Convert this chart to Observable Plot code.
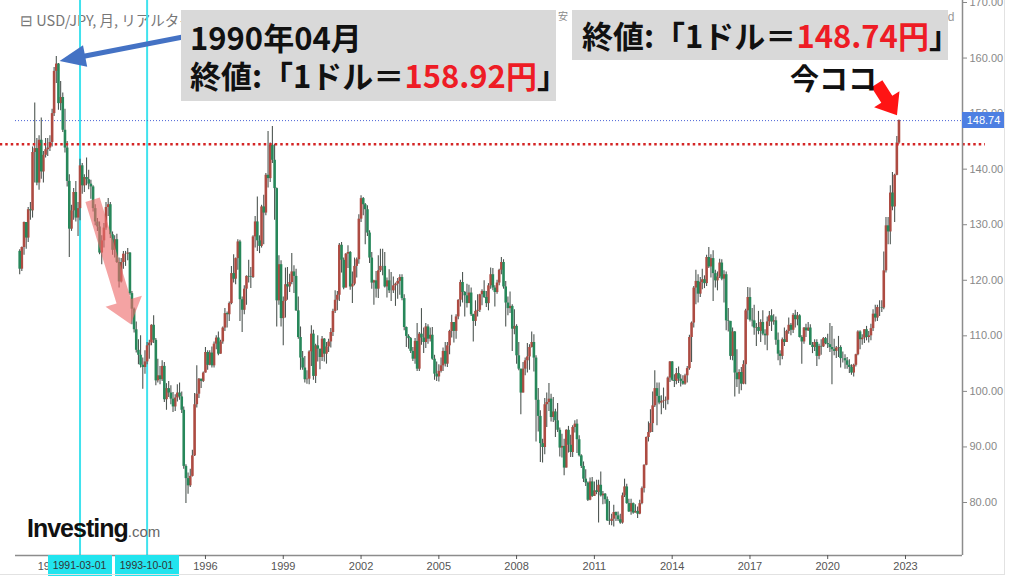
<!DOCTYPE html>
<html><head><meta charset="utf-8">
<script src="https://cdn.jsdelivr.net/npm/d3@7"></script>
<script src="https://cdn.jsdelivr.net/npm/@observablehq/plot@0.6"></script>
<style>
body{margin:0;background:#fff;}
#wrap{position:relative;width:1024px;height:576px;overflow:hidden;background:#fff;font-family:"Liberation Sans",Arial,sans-serif;}
#wrap svg{position:absolute;left:0;top:0;}
.ov{position:absolute;white-space:nowrap;}
.box{position:absolute;background:#d9d9d9;font-family:"Noto Sans CJK JP",sans-serif;font-weight:bold;color:#111;white-space:nowrap;box-sizing:border-box;}
.red{color:#ee1c25;}
.cy{position:absolute;background:#22e4ee;color:#333;font-size:10.5px;text-align:center;height:21px;line-height:21px;}
</style></head><body><div id="wrap"></div>
<script>
// ---------- data: USD/JPY monthly candles from 1988-11 to 2022-10 ----------
const startYear = 1988, startMonth = 10; // November 1988 (0-based month)
const firstOpen = 125.2;
const closes = [
 122.0,125.9,
 130.4,127.6,132.7,132.5,143.0,143.7,137.5,145.2,139.5,142.5,143.5,143.8,
 144.8,150.0,157.6,158.92,151.8,152.9,147.0,143.8,137.8,129.2,132.5,135.8,
 131.2,132.9,140.6,137.0,138.5,138.1,137.3,136.8,132.9,130.5,129.6,124.9,
 127.1,129.4,133.1,133.6,128.2,125.4,127.3,123.2,119.7,123.2,124.7,124.7,
 124.9,117.6,114.8,111.1,107.4,106.5,104.7,104.3,105.3,108.2,108.7,111.9,
 109.2,101.9,102.8,102.1,104.5,98.5,100.5,99.7,98.6,97.2,98.8,99.7,
 99.0,96.6,86.5,84.3,83.0,84.7,88.4,97.6,99.5,102.2,101.8,103.3,
 107.0,104.7,106.9,104.6,108.5,109.6,106.7,108.9,111.4,114.0,113.8,115.8,
 121.2,120.2,123.9,126.9,116.5,114.6,118.4,120.7,120.6,120.5,127.8,130.5,
 127.1,126.1,133.2,132.1,138.9,138.3,144.3,141.6,136.5,116.3,122.8,113.1,
 116.2,119.2,118.8,119.6,121.5,120.7,114.5,109.7,106.0,104.2,102.1,102.2,
 107.1,110.3,102.7,108.2,107.6,106.1,109.4,106.7,108.0,108.9,110.6,114.4,
 116.4,117.3,126.3,123.6,118.6,124.7,125.0,118.8,119.3,122.5,123.7,131.0,
 134.7,133.6,132.7,128.5,124.0,119.5,119.9,118.4,121.7,122.5,122.5,118.8,
 119.9,118.1,118.1,119.0,119.3,119.8,120.5,116.7,111.5,109.9,109.5,107.2,
 105.8,109.0,104.0,110.3,109.6,108.8,111.6,109.4,110.1,105.8,103.1,102.6,
 103.6,104.6,107.2,104.9,108.2,110.8,112.4,110.8,113.4,116.4,119.6,117.8,
 117.2,115.8,117.7,113.8,112.6,114.4,114.6,117.4,118.0,116.9,115.8,119.0,
 121.0,118.6,117.8,119.5,121.8,123.2,118.8,115.9,114.9,115.3,111.2,111.7,
 106.4,104.0,99.7,104.0,105.5,106.2,107.9,108.8,106.0,98.4,95.5,90.6,
 89.9,97.6,98.0,98.6,95.3,96.3,94.7,93.0,89.8,90.1,86.2,93.0,
 90.3,89.0,93.5,94.1,91.3,88.4,86.5,84.2,83.5,80.4,83.7,81.1,
 82.1,81.8,83.1,81.2,81.5,80.5,76.7,76.6,77.0,78.2,77.6,76.9,
 76.3,81.2,82.8,79.8,78.3,79.8,78.1,78.4,77.9,79.8,82.5,86.7,
 91.7,92.6,94.2,97.4,100.5,99.1,97.9,98.2,98.3,98.4,102.4,105.3,
 102.0,101.8,103.2,102.2,101.8,101.3,102.8,104.1,109.7,112.3,118.6,119.8,
 117.5,119.6,120.1,119.4,124.1,122.4,123.9,121.2,119.9,120.6,123.1,120.2,
 121.0,112.7,112.6,106.3,110.7,103.3,102.1,103.4,101.3,104.8,114.5,116.9,
 112.8,112.7,111.4,111.5,110.8,112.4,110.3,110.0,112.5,113.6,112.5,112.7,
 109.2,106.7,106.3,109.3,108.8,110.8,111.9,111.0,113.7,112.9,113.6,109.7,
 108.9,111.4,110.9,111.4,108.3,107.9,108.8,106.3,108.1,108.0,109.5,108.6,
 108.4,107.9,107.5,107.2,107.8,107.9,105.9,105.9,105.5,104.7,104.3,103.3,
 104.7,106.6,110.7,109.3,109.6,111.1,109.7,110.0,111.3,113.9,113.2,115.1,
 115.1,115.0,121.7,129.8,128.7,135.7,133.2,138.9,144.7,148.74
];
const highs = [
 125.5,126.0,
 130.5,130.3,133.1,134.0,144.0,151.9,145.5,146.0,149.2,143.2,145.5,145.5,
 146.0,150.8,158.3,160.3,159.0,155.8,153.7,150.8,145.0,139.0,133.5,136.5,
 137.8,134.0,141.8,141.0,139.0,142.0,139.8,138.0,137.0,133.6,131.1,130.5,
 128.0,130.2,134.0,134.7,134.0,128.7,128.0,128.3,124.0,123.9,125.2,125.2,
 125.7,125.0,118.0,115.0,112.5,109.3,110.0,106.0,107.3,108.8,109.2,112.0,
 113.6,109.5,105.8,104.5,105.5,105.2,101.4,101.8,101.0,99.8,99.4,101.2,
 101.5,99.9,97.2,86.8,85.3,86.0,89.4,99.6,104.6,102.3,102.2,103.5,
 107.9,107.3,107.3,108.0,108.9,110.0,110.7,109.2,111.6,114.9,114.3,116.1,
 122.5,124.6,124.0,127.3,127.2,117.0,119.0,120.8,123.6,122.3,128.0,131.5,
 135.0,128.0,133.5,135.3,139.2,146.8,144.7,147.7,144.5,136.6,124.4,123.5,
 117.0,122.2,122.3,121.1,124.8,122.6,122.0,117.0,111.6,107.2,106.3,103.7,
 107.3,111.8,111.0,108.5,110.0,107.3,109.9,109.5,108.8,109.4,111.3,114.8,
 118.1,118.0,126.6,126.8,124.0,124.8,126.2,125.2,121.5,124.0,124.0,131.8,
 135.2,134.9,133.8,133.4,128.9,125.0,120.0,121.6,124.4,125.6,125.6,125.0,
 120.4,121.9,121.4,120.6,119.5,120.3,121.0,121.0,117.4,111.6,110.2,109.7,
 107.9,109.5,112.2,110.6,114.9,111.4,112.2,112.0,111.4,111.5,106.5,105.3,
 104.8,106.0,107.8,108.8,108.8,111.0,113.7,112.3,113.8,116.5,120.0,121.4,
 118.0,119.3,119.1,118.6,113.9,116.3,117.4,117.5,118.3,119.9,118.0,119.4,
 122.2,122.1,119.0,120.0,122.0,124.1,123.7,119.8,117.0,117.9,115.6,114.7,
 112.0,108.8,104.0,105.2,106.0,108.6,108.4,110.7,110.2,106.4,100.5,96.5,
 91.4,98.7,99.7,101.4,99.5,98.9,96.8,97.8,93.4,92.3,91.4,93.1,
 93.7,92.1,93.8,94.7,94.9,92.0,88.6,87.3,85.9,83.7,84.4,84.5,
 83.7,84.0,84.0,85.5,82.0,81.6,81.0,80.2,77.9,79.5,78.3,78.3,
 77.9,81.7,84.2,83.3,80.6,80.6,79.9,79.6,79.2,80.4,82.8,86.8,
 91.8,94.5,96.7,99.9,103.7,101.5,101.5,99.2,100.6,99.0,102.6,105.4,
 105.4,103.0,104.1,104.4,103.0,102.8,103.1,104.5,110.1,112.5,118.9,121.8,
 121.0,120.5,122.0,120.8,124.5,125.9,124.6,125.3,121.8,121.5,123.8,123.7,
 121.7,121.5,114.9,112.0,111.4,110.8,107.5,103.9,104.3,105.5,114.8,118.7,
 118.6,114.9,115.5,112.2,114.4,112.9,114.5,111.1,113.4,114.4,114.7,113.8,
 113.4,110.5,107.3,109.6,111.4,111.0,113.2,112.2,114.0,114.6,114.2,113.8,
 110.0,111.5,112.1,112.4,112.0,108.8,109.3,109.3,108.5,109.3,109.7,109.7,
 110.3,112.2,111.7,109.4,108.1,109.9,108.2,107.1,106.6,106.1,105.7,104.8,
 104.9,106.7,110.9,110.9,110.2,111.1,111.7,110.8,112.1,114.7,115.5,115.5,
 116.3,116.3,125.1,131.3,131.3,137.0,139.4,139.1,145.9,148.86
];
const lows = [
 121.0,121.6,
 124.5,125.6,126.8,130.8,131.2,137.5,137.0,136.2,138.2,137.5,142.0,142.3,
 143.2,144.0,149.5,155.4,150.6,150.5,146.6,142.9,136.8,124.1,128.8,130.8,
 130.5,127.9,130.7,135.5,135.8,137.0,136.3,134.6,132.3,129.8,128.8,124.6,
 122.8,125.8,129.0,131.5,127.5,124.5,124.0,123.0,118.6,119.5,122.0,122.5,
 123.5,117.3,112.0,110.5,106.9,104.8,104.2,100.4,103.1,104.8,105.8,108.2,
 108.6,101.0,101.5,101.2,101.8,98.0,96.6,98.9,97.6,96.2,96.4,98.1,
 98.4,96.0,86.0,79.8,81.5,82.7,84.6,88.3,97.0,98.7,100.5,101.6,
 103.3,103.8,104.6,104.2,104.2,107.5,106.4,106.7,108.5,110.8,111.4,112.6,
 115.6,119.5,119.2,121.8,112.6,110.6,113.8,115.5,119.5,118.5,120.3,125.8,
 125.2,124.8,125.8,126.4,131.6,136.6,137.6,141.0,130.8,111.6,115.5,111.6,
 108.2,113.2,116.4,117.8,119.2,117.6,114.4,109.4,103.8,103.8,101.5,101.3,
 101.2,104.5,102.0,101.4,105.3,103.9,105.4,105.3,104.9,107.0,107.8,109.9,
 114.0,114.5,116.2,121.3,118.3,118.9,122.1,118.2,115.8,119.0,120.4,122.9,
 130.4,131.6,126.4,127.9,123.0,118.4,115.5,116.8,116.7,121.4,120.8,118.6,
 116.8,117.6,116.2,117.6,115.3,116.6,117.3,116.3,110.9,107.9,107.6,106.8,
 105.4,104.9,103.6,103.6,108.3,106.8,107.7,108.5,108.9,105.6,102.0,101.8,
 101.7,103.3,103.6,104.4,104.3,106.6,109.6,108.7,109.4,112.9,115.2,115.9,
 113.4,115.0,115.8,113.5,108.9,111.7,113.4,114.2,115.4,116.7,115.1,114.5,
 118.4,118.1,115.2,117.5,119.0,121.0,118.4,111.6,113.6,114.0,107.2,110.2,
 104.9,103.7,95.8,99.7,102.8,103.3,103.8,107.8,103.5,90.9,92.7,87.2,
 87.1,88.6,93.5,96.4,94.5,94.4,91.7,92.6,88.2,88.0,84.8,86.3,
 88.9,88.1,88.1,92.5,88.8,88.2,86.1,83.6,82.9,80.2,80.3,80.9,
 81.1,81.4,76.3,81.0,79.6,79.7,76.6,75.9,75.8,75.6,76.6,76.6,
 76.1,76.1,80.9,79.7,78.2,77.7,77.9,78.1,77.1,77.8,79.6,81.7,
 86.6,90.9,92.5,92.6,97.1,93.8,97.6,95.8,96.9,96.6,97.6,101.6,
 101.8,100.7,101.2,101.4,100.8,101.1,101.1,101.5,103.8,105.2,111.4,115.6,
 115.9,116.9,118.3,118.5,118.9,122.1,120.4,116.2,118.6,118.1,120.3,119.9,
 115.9,110.9,110.7,105.6,105.5,99.0,100.7,99.5,100.1,101.2,101.2,112.9,
 112.5,111.6,110.1,108.1,110.2,108.8,110.0,108.3,107.3,111.7,110.8,111.9,
 108.3,105.5,104.6,105.7,108.1,108.9,110.3,110.0,110.4,111.4,111.8,109.6,
 104.9,108.5,109.7,110.8,108.3,106.8,107.2,104.5,105.7,106.5,107.9,108.4,
 107.7,107.0,101.2,106.4,105.9,106.1,104.2,105.1,104.0,104.0,103.2,102.9,
 102.6,104.4,106.4,107.5,108.3,108.6,109.1,108.7,109.1,110.8,112.5,112.6,
 113.5,114.2,114.7,121.3,126.4,126.4,132.5,130.4,138.8,144.5
];
const yTicks = [80, 90, 100, 110, 120, 130, 140, 150, 160, 170];
const xTickYears = [1990, 1993, 1996, 1999, 2002, 2005, 2008, 2011, 2014, 2017, 2020, 2023];
const markerDates = ["1991-03-01", "1993-10-01"];
const levelValue = 144.5;        // red dotted level line
const peakMonth = "1990-04";     // annotated month
const headerText = "⊟ USD/JPY, 月, リアルタイム";

// ---------- build table ----------
const candles = closes.map((c, i) => ({
  date: new Date(Date.UTC(startYear, startMonth + i, 1)),
  open: i ? closes[i - 1] : firstOpen,
  close: c, high: highs[i], low: lows[i]
}));
const last = candles[candles.length - 1];
const peak = candles.find(d => d3.utcFormat("%Y-%m")(d.date) === peakMonth);
const upColor = "#ad4b42", downColor = "#27875a";
const xDomain = [new Date(Date.UTC(1988, 8, 3)), new Date(Date.UTC(2025, 2, 14))];
const yDomain = [70.46, 170.36];
const xTicks = xTickYears.map(y => new Date(Date.UTC(y, 0, 1)));
const markers = markerDates.map(s => new Date(s + "T00:00:00Z"));

const chart = Plot.plot({
  width: 1024, height: 576,
  marginLeft: 15, marginRight: 62, marginTop: 0, marginBottom: 21,
  style: {background: "transparent", fontFamily: "'Liberation Sans', Arial, sans-serif", overflow: "visible"},
  x: {type: "utc", domain: xDomain},
  y: {domain: yDomain},
  marks: [
    Plot.ruleX(markers, {stroke: "#40e2ee", strokeWidth: 2}),
    Plot.ruleY([last.close], {stroke: "#4a62d6", strokeWidth: 1, strokeDasharray: "1,2"}),
    Plot.ruleX(candles, {x: "date", y1: d => Math.min(d.low, d.open, d.close), y2: d => Math.max(d.high, d.open, d.close), stroke: "#4f5753", strokeWidth: 1.1}),
    Plot.ruleX(candles.filter(d => d.close >= d.open), {x: "date", y1: "open", y2: "close", stroke: upColor, strokeWidth: 2.6}),
    Plot.ruleX(candles.filter(d => d.close < d.open), {x: "date", y1: "open", y2: "close", stroke: downColor, strokeWidth: 2.6}),
    Plot.ruleY([{y: levelValue, x1: new Date(Date.UTC(1988, 1, 1)), x2: new Date(Date.UTC(2026, 1, 1))}], {y: "y", x1: "x1", x2: "x2", stroke: "#d42525", strokeWidth: 2.5, strokeDasharray: "2.5,3"}),
    Plot.ruleY([yDomain[0]], {stroke: "#8c8c8c", strokeWidth: 1.5}),
    Plot.ruleX([xDomain[1]], {stroke: "#8c8c8c", strokeWidth: 1.5}),
    Plot.axisY({anchor: "right", ticks: yTicks, tickFormat: d => d.toFixed(2), tickSize: 4, tickPadding: 3, fontSize: 11, color: "#888"}),
    Plot.axisX({ticks: xTicks, tickFormat: d3.utcFormat("%Y"), tickSize: 4, tickPadding: 3, fontSize: 11, color: "#555"})
  ]
});

const wrap = document.getElementById("wrap");
const header = document.createElement("div");
header.className = "ov";
header.style.cssText = "left:20px;top:9px;font-size:14.5px;color:#777;font-family:'Noto Sans CJK JP',sans-serif;";
header.textContent = headerText;
wrap.appendChild(header);
const tiny1 = document.createElement("div");
tiny1.className = "ov"; tiny1.style.cssText = "left:558px;top:8px;font-size:10px;color:#888;font-family:'Noto Sans CJK JP',sans-serif;";
tiny1.textContent = "安"; wrap.appendChild(tiny1);
const tiny2 = document.createElement("div");
tiny2.className = "ov"; tiny2.style.cssText = "left:941px;top:10px;font-size:12px;color:#999;";
tiny2.textContent = "ed"; wrap.appendChild(tiny2);

wrap.appendChild(chart);

const xs = chart.scale("x"), ys = chart.scale("y");
const svg = d3.select(chart);

// annotation arrows, anchored in data coordinates
const arrows = [
  {from: ["1991-09-01", 134.4], to: ["1993-02-20", 112.0], fill: "#ee6b6b", opacity: 0.62, shaft: 15, headW: 38, headL: 24},
  {from: ["1995-02-24", 163.7], to: ["1990-05-24", 159.4], fill: "#4472c4", opacity: 1, shaft: 5, headW: 22, headL: 26},
  {from: ["2021-12-01", 155.3], to: ["2022-09-10", 149.6], fill: "#ff1414", opacity: 1, shaft: 13, headW: 30, headL: 19}
];
function blockArrow(x1, y1, x2, y2, shaft, headW, headL) {
  const dx = x2 - x1, dy = y2 - y1, L = Math.hypot(dx, dy), ux = dx / L, uy = dy / L, px = -uy, py = ux;
  const bx = x2 - ux * headL, by = y2 - uy * headL;
  const pts = [[x1 + px * shaft / 2, y1 + py * shaft / 2], [bx + px * shaft / 2, by + py * shaft / 2], [bx + px * headW / 2, by + py * headW / 2], [x2, y2], [bx - px * headW / 2, by - py * headW / 2], [bx - px * shaft / 2, by - py * shaft / 2], [x1 - px * shaft / 2, y1 - py * shaft / 2]];
  return pts.map(p => p.join(",")).join(" ");
}
for (const a of arrows) {
  const x1 = xs.apply(new Date(a.from[0] + "T00:00:00Z")), y1 = ys.apply(a.from[1]);
  const x2 = xs.apply(new Date(a.to[0] + "T00:00:00Z")), y2 = ys.apply(a.to[1]);
  svg.append("polygon").attr("points", blockArrow(x1, y1, x2, y2, a.shaft, a.headW, a.headL)).attr("fill", a.fill).attr("fill-opacity", a.opacity);
}

// marker labels on x axis
const fmtDay = d3.utcFormat("%Y-%m-%d");
for (const m of markers) {
  const d = document.createElement("div");
  d.className = "cy";
  const x = xs.apply(m);
  d.style.left = (x - 32) + "px"; d.style.width = "64px"; d.style.top = (ys.apply(yDomain[0])) + "px";
  d.textContent = fmtDay(m);
  wrap.appendChild(d);
}
// current price label
const pl = document.createElement("div");
pl.className = "ov";
pl.style.cssText = `left:${xs.apply(xDomain[1])}px;top:${ys.apply(last.close) - 8}px;width:43px;height:16px;line-height:16px;background:#4d7fe2;color:#fff;font-size:11px;text-align:center;`;
pl.textContent = last.close.toFixed(2);
wrap.appendChild(pl);

// text boxes
const box1 = document.createElement("div");
box1.className = "box";
box1.style.cssText = "left:181px;top:10px;width:375px;height:91px;padding:8px 0 0 9px;font-size:31px;line-height:38px;";
box1.innerHTML = `<div>${d3.utcFormat("%Y年%m月")(peak.date)}</div><div>終値:「1ドル＝<span class="red">${peak.close.toFixed(2)}円</span>」</div>`;
wrap.appendChild(box1);
const box2 = document.createElement("div");
box2.className = "box";
box2.style.cssText = "left:572px;top:10px;width:376px;height:50px;padding:0 0 0 10px;font-size:31px;line-height:50px;";
box2.innerHTML = `終値:「1ドル＝<span class="red">${last.close.toFixed(2)}円</span>」`;
wrap.appendChild(box2);
const now = document.createElement("div");
now.className = "ov";
now.style.cssText = "left:790px;top:59px;font-size:29px;line-height:36px;color:#111;font-weight:bold;font-family:'Noto Sans CJK JP',sans-serif;";
now.textContent = "今ココ";
wrap.appendChild(now);

// logo
const logo = document.createElement("div");
logo.className = "ov";
logo.style.cssText = "left:27px;top:514px;";
logo.innerHTML = `<span style="font-weight:bold;font-size:25px;letter-spacing:-1px;color:#111">Investing</span><span style="font-size:15px;color:#666">.com</span>`;
wrap.appendChild(logo);

// outer frame
const fr = document.createElement("div");
fr.className = "ov";
fr.style.cssText = "left:0;top:0;width:1004px;height:574px;border-right:1px solid #e2e2e2;border-bottom:1px solid #e2e2e2;";
wrap.appendChild(fr);
</script></body></html>
